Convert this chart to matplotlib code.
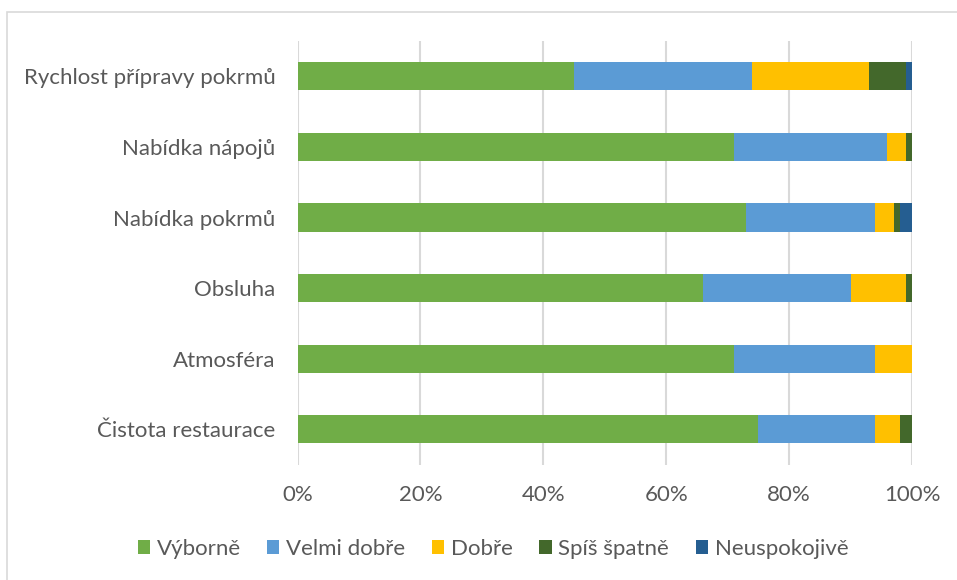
import numpy as np
import matplotlib.pyplot as plt
from matplotlib.patches import Rectangle

plt.rcParams['font.family'] = ['Lato', 'DejaVu Sans']

# data (percent), bottom to top
categories = ['Čistota restaurace', 'Atmosféra', 'Obsluha',
              'Nabídka pokrmů', 'Nabídka nápojů', 'Rychlost přípravy pokrmů']
series = ['Výborně', 'Velmi dobře', 'Dobře', 'Spíš špatně', 'Neuspokojivě']
vyborne = [75, 71, 66, 73, 71, 45]
velmi_dobre = [19, 23, 24, 21, 25, 29]
dobre = [4, 6, 9, 3, 3, 19]
spis_spatne = [2, 0, 1, 1, 1, 6]
neuspokojive = [0, 0, 0, 2, 0, 1]
xticks = [0, 20, 40, 60, 80, 100]
colors = ['#70AD47', '#5B9BD5', '#FFC000', '#43682B', '#255E91']

text_col = '#595959'

fig = plt.figure(figsize=(9.57, 5.8), dpi=100)
ax = fig.add_axes([297.5 / 957, 1 - 464.6 / 580, (912 - 297.5) / 957, (464.6 - 41) / 580])

# outer chart border
fig.patches.append(Rectangle((7 / 957, -0.1), 1.2, (1 - 12 / 580) + 0.1,
                             transform=fig.transFigure, fill=False,
                             edgecolor='#D9D9D9', linewidth=1.2))

y = np.arange(len(categories))
left = np.zeros(len(categories))
for name, vals, c in zip(series, [vyborne, velmi_dobre, dobre, spis_spatne, neuspokojive], colors):
    vals = np.array(vals, dtype=float)
    ax.barh(y, vals, left=left, height=0.4, color=c, label=name, zorder=3)
    left += vals

ax.set_xlim(0, 100)
ax.set_ylim(-0.5, len(categories) - 0.5)
ax.set_xticks(xticks)
ax.set_xticklabels([f'{t}%' for t in xticks])
ax.set_yticks(y)
ax.set_yticklabels(categories)
ax.grid(axis='x', color='#D9D9D9', linewidth=1.5, zorder=0)
for s in ax.spines.values():
    s.set_visible(False)
ax.tick_params(axis='both', length=0, labelsize=16, labelcolor=text_col)
ax.tick_params(axis='x', pad=15)
ax.tick_params(axis='y', pad=16)

fig.legend(loc='center', bbox_to_anchor=(0.515, 1 - 549 / 580), ncol=5,
           frameon=False, fontsize=16, labelcolor=text_col,
           handlelength=0.55, handleheight=0.55, handletextpad=0.3, columnspacing=1.2)

fig.savefig('out.png', dpi=100)
